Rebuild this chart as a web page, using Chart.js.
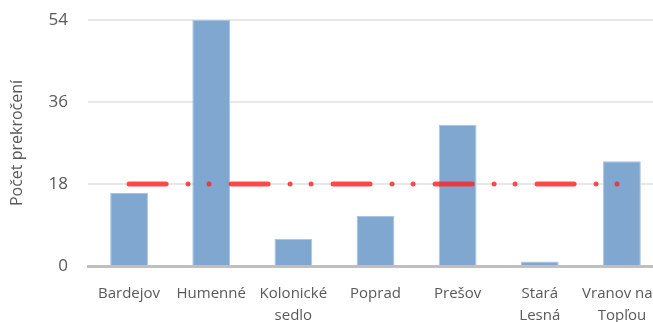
<!DOCTYPE html>
<html>
<head>
<meta charset="utf-8">
<script src="https://cdn.jsdelivr.net/npm/chart.js@4/dist/chart.umd.min.js"></script>
<style>
  html, body { margin: 0; padding: 0; background: #fff; overflow: hidden; }
  .wrap { width: 680px; height: 322px; }
</style>
</head>
<body>
<div class="wrap"><canvas id="chart" width="680" height="322"></canvas></div>
<script>
const stations = ["Bardejov", ["Humenné"], ["Kolonické", "sedlo"], "Poprad", "Prešov", ["Stará", "Lesná"], ["Vranov nad", "Topľou"]];
const exceedances = [16, 54, 6, 11, 31, 1, 23];
const limit = [18, 18, 18, 18, 18, 18, 18];
const yTicks = [0, 18, 36, 54];

const grey = "#595959";
const fontFamily = "'Open Sans', 'Noto Sans', sans-serif";

new Chart(document.getElementById("chart"), {
  data: {
    labels: stations,
    datasets: [
      {
        type: "line",
        data: limit,
        borderColor: "rgba(255, 30, 30, 0.8)",
        borderWidth: 5,
        borderCapStyle: "round",
        borderDash: [37, 22, 0, 21, 0, 22],
        pointRadius: 0,
        order: 0
      },
      {
        type: "bar",
        data: exceedances,
        backgroundColor: "#80a7d0",
        borderColor: "#a9c3e0",
        borderWidth: 1,
        barPercentage: 0.46,
        categoryPercentage: 1,
        order: 1
      }
    ]
  },
  options: {
    responsive: false,
    animation: false,
    layout: { padding: { top: 20, right: 17, left: 0, bottom: 0 } },
    plugins: { legend: { display: false }, tooltip: { enabled: false } },
    scales: {
      x: {
        grid: { display: false, drawTicks: false },
        border: { color: "#bfbfbf", width: 3 },
        ticks: { color: grey, font: { family: fontFamily, size: 15, lineHeight: 1.5 }, padding: 16, maxRotation: 0, autoSkip: false },
        afterFit: (s) => { s.height = 56; s.paddingTop = 0; s.paddingBottom = 0; }
      },
      y: {
        min: 0,
        max: 54,
        afterBuildTicks: (s) => { s.ticks = yTicks.map(v => ({ value: v })); },
        grid: { color: "#e8e8e8", lineWidth: 2, drawTicks: false },
        border: { display: false },
        ticks: { color: grey, font: { family: fontFamily, size: 17 }, padding: 20 },
        title: {
          display: true,
          text: "Počet prekročení",
          color: grey,
          font: { family: fontFamily, size: 16 },
          padding: { top: 8, bottom: 0 }
        },
        afterFit: (s) => { s.width = 88; s.paddingTop = 0; s.paddingBottom = 0; }
      }
    }
  }
});
</script>
</body>
</html>
